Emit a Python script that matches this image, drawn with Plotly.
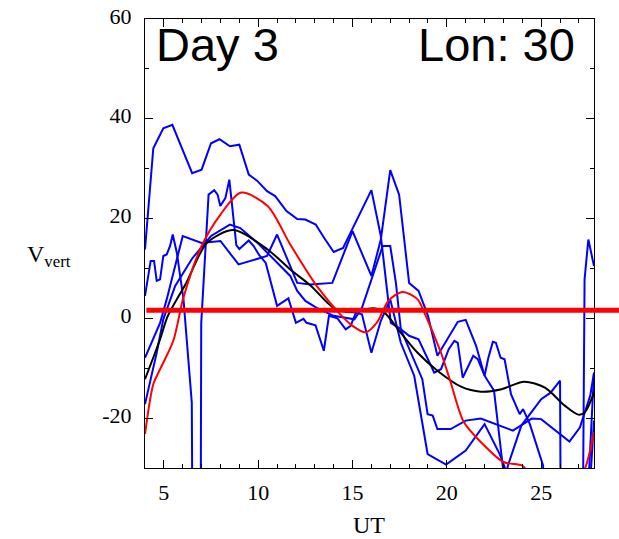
import plotly.graph_objects as go

# ---------------- data ----------------
black_x = [4, 4.8, 5.2, 6.2, 7.3, 8.7, 10.5, 11.7, 12.8, 14.0, 15.0, 16.1, 16.7, 17.56, 18.45, 19.5,
           20.75, 21.8, 22.9, 24.1, 25.2, 26.25, 26.96, 27.3, 27.8]
black_y = [-12.2, -4.2, 0.4, 7.2, 15.2, 17.7, 13.8, 9.8, 6.5, 2.1, 1.2, 2.0, 1.1, -2.9, -6.9, -10.5,
           -13.7, -14.7, -14.2, -12.7, -13.9, -17.5, -19.3, -18.9, -14.9]

red_x = [4, 4.44, 4.8, 5.5, 6.04, 7.0, 8.0, 9.1, 10.5, 11.7, 13.1, 14.3, 15.0, 15.7, 16.3, 16.9,
         17.65, 18.45, 18.8, 19.69, 20.2, 20.9, 21.8, 23.0, 24.0, 24.3, 25.0, 26.5, 27.35, 27.8]
red_y = [-23.2, -13.2, -10.2, -4.5, 4.2, 14.5, 20.8, 25.2, 22.5, 14.8, 6.5, 1.0, -1.5, -2.8, -0.8, 3.5,
         5.3, 3.8, 1.2, -6.9, -12.8, -20.8, -24.8, -28.8, -29.5, -31, -36, -36, -29.8, -22.8]

blue1_x = [4, 4.44, 4.97, 5.45, 6.5, 7.0, 7.5, 7.95, 8.5, 9.0, 9.5, 9.94, 10.47, 10.9, 11.5, 12.07,
           12.5, 13.05, 13.5, 14.0, 14.5, 16.0, 16.5, 17.03, 17.5, 18.0, 18.5, 19.33, 19.69, 20.1,
           20.4, 20.58, 20.84, 21.4, 21.64, 22.0, 22.2, 22.44, 22.6, 22.85, 23.06, 23.4, 23.86,
           24.04, 24.4, 25.1, 25.3, 27.2, 27.3, 27.5, 27.8]
blue1_y = [13.8, 34.1, 38.1, 38.8, 29.1, 29.8, 35.1, 35.9, 34.5, 34.8, 28.8, 27.6, 25.5, 24.5, 21.5, 19.9,
           19.8, 18.8, 16.1, 13.3, 14.1, 25.7, 16.5, -0.9, -2.0, -3.5, -4.2, -10.9, -10.2, -6.2,
           -4.5, -4.9, -11.9, -7.5, -8.2, -11.5, -7.9, -4.7, -4.9, -7.9, -8.2, -15.2, -19.2,
           -18.2, -21.2, -29.5, -45, -45, 7.8, 15.8, 10.5]

blue2_x = [4, 4.3, 4.48, 4.62, 4.8, 4.97, 5.15, 5.33, 5.47, 5.69, 6.04, 6.48, 6.52, 6.95, 6.98, 7.37,
           7.67, 7.85, 7.99, 8.26, 8.47, 8.84, 9.0, 9.5, 9.76, 10.03, 10.4, 11.0, 11.6, 12.0, 12.4,
           12.56, 13.04, 13.48, 13.75, 14.2, 14.64, 14.9, 15.17, 15.5, 16.0, 16.5, 17.0, 17.56,
           18.27, 18.98, 19.96, 21.0, 22.0, 22.8, 23.06, 23.15, 23.24, 23.95, 25.0, 25.5, 26.0,
           26.04, 27.35, 27.8]
blue2_y = [4.5, 11.5, 11.5, 7.5, 7.8, 12.5, 12.8, 14.5, 16.8, 13.1, 3.8, -16.9, -45, -45, -1.0, 24.8,
           25.7, 24.8, 22.5, 24.1, 27.8, 14.7, 13.9, 15.6, 14.5, 12.8, 11.1, 2.5, 4.0, -0.9, -0.1,
           -0.9, -1.4, -6.5, 0.5, 0.0, -2.2, -1.5, 1.1, 0.8, -6.9, -0.5, 3.8, -4.9,
           -11.5, -27.2, -29.3, -26.5, -21.2, -27.2, -29.8, -31, -29.5, -21.5, -16.2, -14.9, -12.5,
           -45, -45, -10.9]

blue3_x = [4, 4.44, 4.8, 5.15, 6.0, 7.0, 8.0, 8.96, 10.47, 11.0, 12.07, 12.78, 13.93, 15.0, 16.0,
           16.5, 17.0, 17.47, 18.0, 18.5, 19.0, 19.5, 20.58, 21.0, 21.55, 22.0, 22.5, 22.97, 23.2,
           27.4, 27.8]
blue3_y = [-7.9, -4.2, -0.9, 3.8, 16.5, 15.1, 15.5, 10.8, 12.5, 16.8, 7.1, 6.8, 7.1, 17.5, 8.5,
           15.8, 29.7, 24.8, 7.1, 5.5, 0.5, -7.5, -0.7, -0.3, -5.5, -11.5, -14.5, -29.8, -45,
           -45, -20.5]

blue4_x = [4, 4.62, 4.97, 5.6, 6.5, 7.5, 8.5, 9.05, 10.0, 10.9, 11.7, 12.07, 12.5, 13.1, 14.0, 15.1,
           15.5, 16.6, 17.0, 17.3, 17.56, 18.7, 18.98, 19.25, 19.5, 20.2, 21.0, 21.8, 22.6, 23.5,
           24.5, 25.0, 26.5, 27.05, 27.6, 27.8]
blue4_y = [-17.2, -6.9, -0.2, 6.5, 12.0, 16.5, 18.8, 18.1, 15.0, 11.5, 8.5, 5.5, 3.5, 2.1, 0.5, -0.2,
           2.1, 14.5, 14.5, 7.1, -2.2, -12.2, -19.2, -19.5, -22.2, -22.2, -20.5, -20.1, -21.2, -22.5,
           -20.1, -20.2, -24.7, -21.9, -15.5, -10.9]

red_level = 1.6

x_ticks = [5, 10, 15, 20, 25]
y_ticks = [-20, 0, 20, 40, 60]
y_tick_labels = ["-20", "0", "20", "40", "60"]

blue_series = [(blue1_x, blue1_y), (blue2_x, blue2_y), (blue3_x, blue3_y), (blue4_x, blue4_y)]

# ---------------- figure ----------------
fig = go.Figure()
for bx, by in blue_series:
    fig.add_trace(go.Scatter(x=bx, y=by, mode="lines",
                             line=dict(color="#0000ff", width=2), showlegend=False))
fig.add_trace(go.Scatter(x=black_x, y=black_y, mode="lines",
                         line=dict(color="black", width=2, shape="spline", smoothing=0.8),
                         showlegend=False))
fig.add_trace(go.Scatter(x=red_x, y=red_y, mode="lines",
                         line=dict(color="#ff0000", width=2, shape="spline", smoothing=0.8),
                         showlegend=False))

fig.add_shape(type="line", xref="paper", yref="y", x0=0.003, x1=1.1,
              y0=red_level, y1=red_level, line=dict(color="#ff0000", width=5))

tickfont = dict(family="Liberation Serif", size=22, color="black")
fig.update_xaxes(range=[4, 27.8], tickvals=x_ticks, ticks="inside", ticklen=8, tickwidth=1,
                 tickcolor="black", showline=True, linecolor="black", linewidth=1, mirror="ticks",
                 showgrid=False, zeroline=False, tickfont=tickfont, ticklabelstandoff=5,
                 automargin=False,
                 minor=dict(dtick=1, tick0=0, ticks="inside", ticklen=4, tickcolor="black", showgrid=False))
fig.update_yaxes(range=[-30, 60], tickvals=y_ticks, ticktext=y_tick_labels, ticks="inside",
                 ticklen=8, tickwidth=1,
                 tickcolor="black", showline=True, linecolor="black", linewidth=1, mirror="ticks",
                 showgrid=False, zeroline=False, tickfont=tickfont, ticklabelstandoff=8,
                 ticklabelshift=-3, automargin=False,
                 minor=dict(dtick=10, tick0=0, ticks="inside", ticklen=4, tickcolor="black", showgrid=False))

fig.add_annotation(text="Day 3", xref="paper", yref="paper", x=0.021, y=0.944,
                   xanchor="left", yanchor="middle", showarrow=False,
                   font=dict(family="Liberation Sans", size=47, color="black"))
fig.add_annotation(text="Lon: 30", xref="paper", yref="paper", x=0.962, y=0.944,
                   xanchor="right", yanchor="middle", showarrow=False,
                   font=dict(family="Liberation Sans", size=47, color="black"))
fig.add_annotation(text="V<sub>vert</sub>", xref="paper", yref="paper", x=-0.268, y=0.472,
                   xanchor="left", yanchor="middle", showarrow=False,
                   font=dict(family="Liberation Serif", size=24, color="black"))
fig.add_annotation(text="UT", xref="paper", yref="paper", x=0.499, y=-0.127,
                   xanchor="center", yanchor="middle", showarrow=False,
                   font=dict(family="Liberation Serif", size=24, color="black"))

fig.update_layout(width=619, height=539, margin=dict(l=145, r=25, t=19, b=71),
                  paper_bgcolor="white", plot_bgcolor="white")

fig.write_html("out.html")
